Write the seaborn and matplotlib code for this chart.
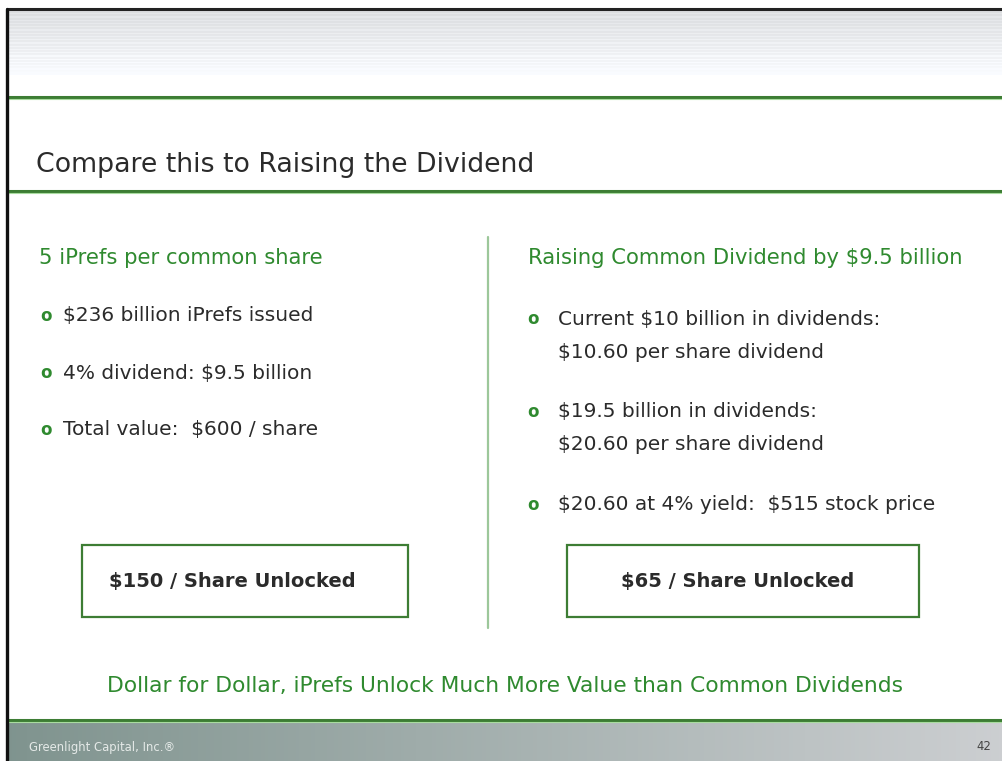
import matplotlib.pyplot as plt
import numpy as np
import seaborn as sns
from matplotlib.patches import Rectangle

sns.set_theme(style="white")
plt.rcParams['font.family'] = ['DejaVu Sans']
plt.rcParams['text.parse_math'] = False

# slide content
title = "Compare this to Raising the Dividend"
left_head = "5 iPrefs per common share"
left_bullets = ["$236 billion iPrefs issued",
                "4% dividend: $9.5 billion",
                "Total value:  $600 / share"]
right_head = "Raising Common Dividend by $9.5 billion"
right_bullets = [["Current $10 billion in dividends:", "$10.60 per share dividend"],
                 ["$19.5 billion in dividends:", "$20.60 per share dividend"],
                 ["$20.60 at 4% yield:  $515 stock price"]]
left_box = "$150 / Share Unlocked"
right_box = "$65 / Share Unlocked"
conclusion = "Dollar for Dollar, iPrefs Unlock Much More Value than Common Dividends"
footer_left = "Greenlight Capital, Inc.\u00ae"
footer_right = "42"

green = "#2f8a2f"
dark = "#2b2b2b"

fig = plt.figure(figsize=(10.03, 7.61), dpi=100)
ax = fig.add_axes([0, 0, 1, 1])
ax.set_xlim(0, 1003)
ax.set_ylim(761, 0)
ax.axis("off")

# header stripes fading to white
rows = np.arange(60)
shade = 0.88 + 0.12 * (rows / 59.0) ** 1.2
shade = shade + np.where(rows % 3 == 0, 0.03, 0.0)
shade = np.clip(shade, 0, 1)
hdr = np.stack([shade * 0.98, shade * 0.988, shade], axis=-1)[:, None, :].repeat(2, axis=1)
ax.imshow(hdr, extent=(8, 1003, 75, 10), aspect="auto", interpolation="nearest", zorder=0)

# frame
ax.plot([7, 1003], [9, 9], color="#222222", lw=2.2, zorder=3)
ax.plot([7, 7], [9, 761], color="#111111", lw=2.4, zorder=3)

# green rules
for y in (97, 191, 720):
    ax.plot([8, 1003], [y, y], color="#3d7d34", lw=2.2, zorder=2)
    ax.plot([8, 1003], [y + 2, y + 2], color="#a9dca0", lw=0.8, zorder=2)

# title
ax.text(36, 165, title, fontsize=19.3, color=dark, va="center", ha="left")

# left column
ax.text(39, 258, left_head, fontsize=15.2, color=green, va="center")
for i, b in enumerate(left_bullets):
    y = 316 + i * 57
    ax.text(46, y, "o", fontsize=12, color=green, fontweight="bold", va="center", ha="center")
    ax.text(63, y, b, fontsize=14.5, color=dark, va="center")

# divider
ax.plot([488, 488], [237, 628], color="#9cc79a", lw=1.6)

# right column
ax.text(528, 258, right_head, fontsize=15.2, color=green, va="center")
y0 = [319, 412, 505]
for y, lines in zip(y0, right_bullets):
    ax.text(533, y, "o", fontsize=12, color=green, fontweight="bold", va="center", ha="center")
    for k, line in enumerate(lines):
        ax.text(558, y + k * 33, line, fontsize=14.5, color=dark, va="center")

# boxes
for x0, x1, txt, tx in [(82, 408, left_box, 232), (567, 919, right_box, 738)]:
    ax.add_patch(Rectangle((x0, 545), x1 - x0, 72, fill=False, edgecolor="#3d7d34", lw=1.6))
    ax.text(tx, 582, txt, fontsize=14, fontweight="bold", color=dark, va="center", ha="center")

# conclusion
ax.text(505, 686, conclusion, fontsize=15.7, color=green, va="center", ha="center")

# footer gradient
g = np.linspace(0, 1, 256)
c0 = np.array([0.50, 0.58, 0.56])
c1 = np.array([0.80, 0.81, 0.82])
grad = (c0[None, :] * (1 - g[:, None]) + c1[None, :] * g[:, None])[None, :, :]
ax.imshow(grad, extent=(8, 1003, 761, 723), aspect="auto", zorder=1)
ax.text(29, 747, footer_left, fontsize=8.4, color="#e4e9e7", va="center", zorder=4)
ax.text(991, 747, footer_right, fontsize=8.4, color="#444444", va="center", ha="right", zorder=4)

ax.set_xlim(0, 1003)
ax.set_ylim(761, 0)
fig.savefig("out.png", dpi=100, facecolor="white")
